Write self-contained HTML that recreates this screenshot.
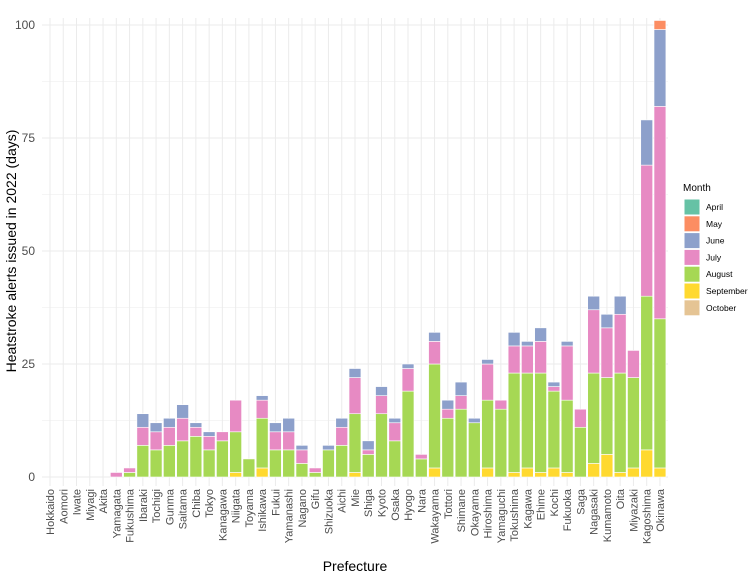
<!DOCTYPE html>
<html><head><meta charset="utf-8"><style>
body{margin:0;background:#fff;font-family:"Liberation Sans",Arial,sans-serif}
svg text{font-family:"Liberation Sans",Arial,sans-serif}
</style></head><body>
<svg id="c" width="748" height="576"></svg>
<script>
const prefectures=["Hokkaido","Aomori","Iwate","Miyagi","Akita","Yamagata","Fukushima","Ibaraki","Tochigi","Gunma","Saitama","Chiba","Tokyo","Kanagawa","Niigata","Toyama","Ishikawa","Fukui","Yamanashi","Nagano","Gifu","Shizuoka","Aichi","Mie","Shiga","Kyoto","Osaka","Hyogo","Nara","Wakayama","Tottori","Shimane","Okayama","Hiroshima","Yamaguchi","Tokushima","Kagawa","Ehime","Kochi","Fukuoka","Saga","Nagasaki","Kumamoto","Oita","Miyazaki","Kagoshima","Okinawa"];
const september=[0,0,0,0,0,0,0,0,0,0,0,0,0,0,1,0,2,0,0,0,0,0,0,1,0,0,0,0,0,2,0,0,0,2,0,1,2,1,2,1,0,3,5,1,2,6,2];
const august=[0,0,0,0,0,0,1,7,6,7,8,9,6,8,9,4,11,6,6,3,1,6,7,13,5,14,8,19,4,23,13,15,12,15,15,22,21,22,17,16,11,20,17,22,20,34,33];
const july=[0,0,0,0,0,1,1,4,4,4,5,2,3,2,7,0,4,4,4,3,1,0,4,8,1,4,4,5,1,5,2,3,0,8,2,6,6,7,1,12,4,14,11,13,6,29,47];
const june=[0,0,0,0,0,0,0,3,2,2,3,1,1,0,0,0,1,2,3,1,0,1,2,2,2,2,1,1,0,2,2,3,1,1,0,3,1,3,1,1,0,3,3,4,0,10,17];
const may=[0,0,0,0,0,0,0,0,0,0,0,0,0,0,0,0,0,0,0,0,0,0,0,0,0,0,0,0,0,0,0,0,0,0,0,0,0,0,0,0,0,0,0,0,0,0,2];
const yTicks=[0,25,50,75,100];
const months=["April","May","June","July","August","September","October"];
const colors=["#66C2A5","#FC8D62","#8DA0CB","#E78AC3","#A6D854","#FFD92F","#E5C494"];
const NS="http://www.w3.org/2000/svg",svg=document.getElementById('c');
function el(t,a,p){const e=document.createElementNS(NS,t);for(const k in a)e.setAttribute(k,a[k]);(p||svg).appendChild(e);return e;}
const x0=50,step=13.26,bw=11.9,yb=477,pxu=4.52;
const X=i=>x0+i*step, Y=v=>yb-v*pxu;
const g=el('g',{});

for(let v=0;v<=100;v+=12.5){el('line',{x1:42,x2:668,y1:Y(v),y2:Y(v),stroke:'#ebebeb','stroke-width':v%25==0?1:0.5},g);}
prefectures.forEach((p,i)=>{el('line',{x1:X(i),x2:X(i),y1:18,y2:yb+9,stroke:'#ebebeb','stroke-width':1},g);});
yTicks.forEach(v=>{const t=el('text',{x:35,y:Y(v)+4,'text-anchor':'end','font-size':12,fill:'#4d4d4d'});t.textContent=v;
});
const stacks=[[september,5],[august,4],[july,3],[june,2],[may,1]];
prefectures.forEach((p,i)=>{let c=0;stacks.forEach(([arr,ci])=>{const v=arr[i];if(v>0){const r=el('rect',{x:X(i)-bw/2,y:Y(c+v),width:bw,height:v*pxu,fill:colors[ci],stroke:'#fff','stroke-width':0.6});
c+=v;}});
const t=el('text',{transform:`translate(${X(i)+4},489) rotate(-90)`,'text-anchor':'end','font-size':11,fill:'#4d4d4d'});t.textContent=p;
});
let t=el('text',{x:355,y:571,'text-anchor':'middle','font-size':14,fill:'#000'});t.textContent='Prefecture';

t=el('text',{transform:'translate(16,251) rotate(-90)','text-anchor':'middle','font-size':14,fill:'#000'});t.textContent='Heatstroke alerts issued in 2022 (days)';

t=el('text',{x:683,y:191,'font-size':10,fill:'#000'});t.textContent='Month';

months.forEach((m,k)=>{const y=199+k*16.8;const r=el('rect',{x:684,y:y,width:16,height:16,fill:colors[k],stroke:'#fff'});

const tt=el('text',{x:706,y:y+11,'font-size':8.5,fill:'#000'});tt.textContent=m;
});
</script>
</body></html>
